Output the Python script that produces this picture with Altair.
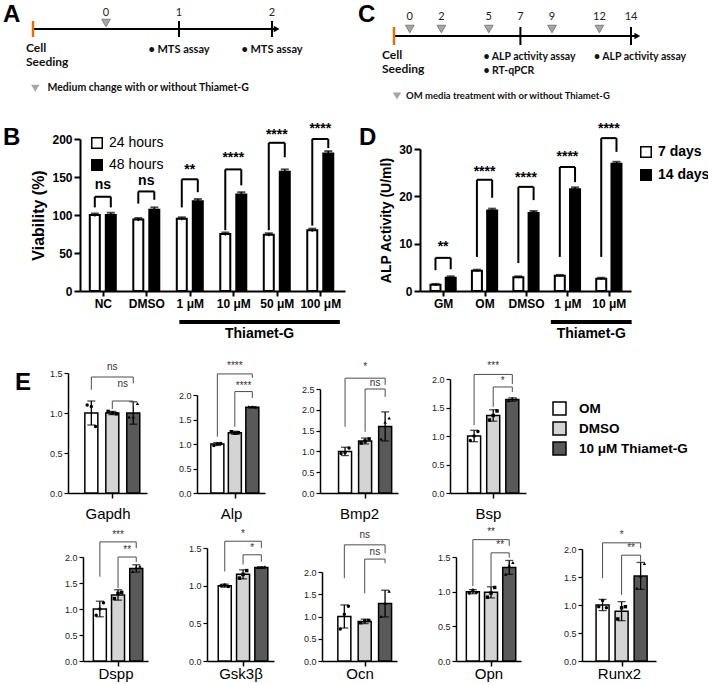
import json
import altair as alt
import pandas as pd

FONT = "Liberation Sans"
TL_FONT = "Lato"

# ====================== DATA ======================
# ---- Panel A timeline (days) ----
a_seed = -1
a_day_labels = [0, 1, 2]
a_tick_days = [1, 2]
a_treat_days = [0]
a_assay_days = [1, 2]
a_assay_text = ["• MTS assay", "• MTS assay"]
a_end = 2.05
a_legend_text = "Medium change with or without Thiamet-G"

# ---- Panel C timeline (days) ----
c_seed = -1
c_day_labels = [0, 2, 5, 7, 9, 12, 14]
c_tick_days = [7, 14]
c_treat_days = [0, 2, 5, 9, 12]
c_assay_days = [7, 14]
c_assay_text = ["• ALP activity assay", "• ALP activity assay"]
c_extra_days = [7]
c_extra_text = ["• RT-qPCR"]
c_end = 14.4
c_legend_text = "OM media treatment with or without Thiamet-G"

# ---- Panel B: viability ----
b_groups = ["NC", "DMSO", "1 μM", "10 μM", "50 μM", "100 μM"]
b_series = ["24 hours", "48 hours"]
b_24h = [100, 94, 95, 75, 74, 80]
b_48h = [100, 107, 118, 127, 157, 181]
b_sd_24h = [2, 2, 2, 2, 2, 2]
b_sd_48h = [3, 3, 3, 3, 3, 3]
b_sig = ["ns", "ns", "**", "****", "****", "****"]
b_br_top = [124, 131, 147, 160, 195, 200]
b_br_left = [110, 115, 110, 80, 80, 86]
b_br_right = [110, 120, 130, 139, 176, 188]
b_sig_y = [139, 145, 159, 175, 205, 213]
b_yticks = [0, 50, 100, 150, 200]

# ---- Panel D: ALP activity ----
d_groups = ["GM", "OM", "DMSO", "1 μM", "10 μM"]
d_series = ["7 days", "14 days"]
d_7 = [1.3, 4.3, 2.9, 3.2, 2.6]
d_14 = [2.8, 17.0, 16.5, 21.5, 26.9]
d_sd_7 = [0.2, 0.2, 0.2, 0.2, 0.2]
d_sd_14 = [0.3, 0.4, 0.4, 0.4, 0.4]
d_sig = ["**", "****", "****", "****", "****"]
d_br_top = [7.0, 23.5, 22.0, 26.2, 32.3]
d_br_left = [4.4, 7.2, 5.9, 7.2, 7.2]
d_br_right = [4.6, 19.7, 19.2, 23.0, 29.4]
d_sig_y = [9.2, 25.2, 23.9, 28.3, 34.2]
d_yticks = [0, 10, 20, 30]

thiamet_label = "Thiamet-G"

# ---- Panel E: RT-qPCR ----
e_groups = ["OM", "DMSO", "10 μM Thiamet-G"]
e_point_shapes = ["circle", "square", "triangle-up"]
e_genes = ["Gapdh", "Alp", "Bmp2", "Bsp", "Dspp", "Gsk3β", "Ocn", "Opn", "Runx2"]
e_mean = [
    [1.0, 1.0, 1.0], [1.0, 1.23, 1.75], [1.0, 1.25, 1.6],
    [1.0, 1.36, 1.64], [1.0, 1.27, 1.78], [1.0, 1.15, 1.24],
    [1.0, 0.89, 1.29], [1.0, 0.99, 1.35], [1.0, 0.89, 1.52],
]
e_sd = [
    [0.15, 0.02, 0.14], [0.03, 0.03, 0.01], [0.10, 0.07, 0.35],
    [0.10, 0.10, 0.03], [0.15, 0.10, 0.07], [0.02, 0.06, 0.01],
    [0.26, 0.05, 0.30], [0.03, 0.08, 0.10], [0.10, 0.17, 0.24],
]
e_points = [
    [[1.10, 1.08, 0.83], [1.02, 1.00, 0.99], [0.95, 0.95, 1.12]],
    [[0.97, 1.00, 1.01], [1.25, 1.22, 1.23], [1.76, 1.76, 1.75]],
    [[0.95, 0.97, 1.08], [1.20, 1.25, 1.30], [1.30, 1.70, 1.80]],
    [[0.92, 1.00, 1.08], [1.28, 1.36, 1.44], [1.62, 1.66, 1.65]],
    [[0.88, 1.00, 1.12], [1.20, 1.30, 1.32], [1.72, 1.80, 1.82]],
    [[1.00, 1.01, 0.99], [1.10, 1.15, 1.20], [1.24, 1.24, 1.25]],
    [[0.72, 1.05, 1.23], [0.86, 0.90, 0.91], [1.00, 1.30, 1.57]],
    [[0.98, 1.02, 0.99], [0.92, 0.98, 1.06], [1.25, 1.38, 1.42]],
    [[0.97, 1.08, 0.95], [0.75, 0.95, 0.97], [1.30, 1.52, 1.74]],
]
e_ytop = [1.5, 2.0, 2.5, 2.0, 2.0, 1.5, 2.0, 1.5, 2.0]
# brackets: (top, left leg end, right leg end, label, label y)
e_br_om = [
    (1.45, 1.29, 1.37, "ns", 1.58), (2.43, 1.15, 2.35, "****", 2.59),
    (2.76, 1.59, 2.60, "*", 3.04), (2.08, 1.19, 1.91, "***", 2.22),
    (2.29, 1.62, 2.17, "***", 2.42), (1.59, 1.19, 1.50, "*", 1.68),
    (2.61, 1.86, 2.42, "ns", 2.83), (1.75, 1.08, 1.66, "**", 1.86),
    (2.11, 1.48, 2.01, "*", 2.25),
]
e_br_dmso = [
    (1.15, 1.05, 1.08, "ns", 1.36), (2.07, 1.35, 1.94, "****", 2.18),
    (2.50, 1.47, 2.31, "ns", 2.64), (1.86, 1.51, 1.77, "*", 1.97),
    (2.00, 1.40, 1.90, "**", 2.13), (1.41, 1.28, 1.32, "*", 1.50),
    (2.29, 1.52, 2.20, "ns", 2.46), (1.56, 1.05, 1.49, "**", 1.68),
    (1.89, 1.18, 1.77, "**", 2.01),
]

# ====================== LAYOUT (pixels, whole figure) ======================
W_ALL, H_ALL = 708, 684
b_x0, b_x1, b_first, b_step, b_half, b_base, b_topy = 80, 345, 18.5, 45.2, 0.184, 291, 139
d_x0, d_x1, d_first, d_step, d_half, d_base, d_topy = 420, 631, 19, 43.5, 0.184, 291, 149
b_th = (1.76, 5.45)
d_th = (2.6, 4.55)
th_bar_y, th_text_y = 322, 334
e_x0 = [68, 197, 320, 450, 83, 207, 322, 456, 582]
e_w = [79, 68, 78, 76, 65, 67, 75, 65, 74]
e_o = [21, 18, 23, 22, 14, 15, 20, 14, 18]
e_k = [24, 20.5, 23, 22, 21.5, 21.5, 23.5, 21.5, 22]
e_base = [493, 493, 493, 493, 661, 661, 661, 661, 661]
e_topy = [373, 395, 389, 379, 557, 548, 572, 557, 549]
e_title_pad = [8, 8, 8, 8, 0, 0, 0, 0, 0]
e_jitter = [-0.2, 0.0, 0.2]
e_fills = ["white", "#D4D4D4", "#595959"]


def letter_mark(letter, x, y, size=24):
    return alt.Chart(pd.DataFrame({"t": [letter]})).mark_text(
        font=FONT, fontSize=size, fontWeight="bold", align="left", baseline="alphabetic",
        color="black").encode(x=alt.value(x), y=alt.value(y), text="t:N")


# ====================== TIMELINES ======================
def timeline(scale, seed, end, day_labels, tick_days, treat_days, assay_days, assay_text,
             extra_days, extra_text, legend_text, line_y, tick_half, tri_y, num_y, lab_y,
             seed_dx, assay_dx, assay_align, assay_size, letter, letter_x, letter_y,
             legend_x, legend_y, legend_size, label_offset):
    X = alt.X("d:Q", scale=scale, axis=None)
    layers = []
    layers.append(alt.Chart(pd.DataFrame({"d": [seed], "d2": [end]})).mark_rule(
        color="black", strokeWidth=2).encode(x=X, x2="d2:Q", y=alt.value(line_y)))
    layers.append(alt.Chart(pd.DataFrame({"d": [end]})).mark_point(
        shape="triangle-right", filled=True, color="black", size=45, opacity=1).encode(
        x=X, y=alt.value(line_y)))
    layers.append(alt.Chart(pd.DataFrame({"d": [seed]})).mark_rule(
        color="#E46C0A", strokeWidth=2.5).encode(
        x=X, y=alt.value(line_y - tick_half), y2=alt.value(line_y + tick_half)))
    layers.append(alt.Chart(pd.DataFrame({"d": tick_days})).mark_rule(
        color="black", strokeWidth=2).encode(
        x=X, y=alt.value(line_y - tick_half), y2=alt.value(line_y + tick_half)))
    layers.append(alt.Chart(pd.DataFrame({"d": day_labels, "t": [str(v) for v in day_labels]})).mark_text(
        font=TL_FONT, fontSize=11, color="#222").encode(x=X, y=alt.value(num_y), text="t:N"))
    layers.append(alt.Chart(pd.DataFrame({"d": treat_days, "k": [legend_text] * len(treat_days)})).mark_point(
        filled=True, color="#A6A6A6", stroke="#7F7F7F", strokeWidth=1, size=75, opacity=1).encode(
        x=X, y=alt.value(tri_y),
        shape=alt.Shape("k:N", scale=alt.Scale(domain=[legend_text], range=["triangle-down"]),
                        legend=alt.Legend(orient="none", legendX=legend_x, legendY=legend_y, title=None,
                                          labelFont=TL_FONT, labelFontSize=legend_size,
                                          labelFontWeight="bold", labelColor="#111", labelLimit=400,
                                          symbolFillColor="#A6A6A6", symbolStrokeColor="#7F7F7F",
                                          symbolSize=70, labelOffset=label_offset, padding=0))))
    layers.append(alt.Chart(pd.DataFrame({"d": [seed], "t": ["Cell\nSeeding"]})).mark_text(
        font=TL_FONT, fontSize=12, fontWeight="bold", align="left", baseline="top", lineBreak="\n",
        lineHeight=14, dx=seed_dx, color="#111").encode(x=X, y=alt.value(lab_y - 7), text="t:N"))
    layers.append(alt.Chart(pd.DataFrame({"d": assay_days, "t": assay_text})).mark_text(
        font=TL_FONT, fontSize=assay_size, fontWeight="bold", align=assay_align, baseline="middle",
        dx=assay_dx, color="#111").encode(x=X, y=alt.value(lab_y), text="t:N"))
    if extra_days:
        layers.append(alt.Chart(pd.DataFrame({"d": extra_days, "t": extra_text})).mark_text(
            font=TL_FONT, fontSize=assay_size, fontWeight="bold", align=assay_align,
            baseline="middle", dx=assay_dx, color="#111").encode(
            x=X, y=alt.value(lab_y + 14), text="t:N"))
    layers.append(letter_mark(letter, letter_x, letter_y))
    return alt.layer(*layers)


chart_a = timeline(alt.Scale(domain=[-1, 0, 1, 2], range=[33, 106, 179, 272]),
                   a_seed, a_end, a_day_labels, a_tick_days, a_treat_days, a_assay_days,
                   a_assay_text, [], [], a_legend_text, 29, 8, 23, 13, 50, -7, 0, "center", 11,
                   "A", 3, 22, 30, 83, 10.5, 7)
chart_c = timeline(alt.Scale(domain=[-1, 14], range=[394, 631], nice=False, zero=False),
                   c_seed, c_end, c_day_labels, c_tick_days, c_treat_days, c_assay_days,
                   c_assay_text, c_extra_days, c_extra_text, c_legend_text, 36, 9, 29, 17, 57,
                   -12, -37, "left", 10.5, "C", 358, 22, 392, 91, 9.5, 4)


# ====================== GROUPED BAR PANELS (B, D) ======================
def grouped_panel(groups, series, v1, v2, s1, s2, sig, top, lb, rb, sy, yticks, ytitle,
                  x0, x1, first, step, half, base, topy, th, letter, letter_x, legend_x, legend_y,
                  legend_bold, title_size, title_pad, row_pad):
    n = len(groups)
    lo = -first / step
    hi = lo + (x1 - x0) / step
    X = alt.X("pos:Q", scale=alt.Scale(domain=[lo, hi], range=[x0, x1], nice=False, zero=False),
              axis=alt.Axis(orient="bottom", offset=-(H_ALL - base), values=list(range(n)),
                            labelExpr=json.dumps(groups) + "[datum.value]",
                            title=None, grid=False, domainColor="black", domainWidth=2,
                            tickColor="black", tickWidth=2, tickSize=5, labelFontSize=12,
                            labelFontWeight="bold", labelColor="black", labelPadding=2,
                            labelOverlap=False, labelFlush=False))
    Y = alt.Y("val:Q", scale=alt.Scale(domain=[0, yticks[-1]], range=[base, topy], nice=False),
              axis=alt.Axis(orient="left", offset=-x0, values=yticks, grid=False,
                            domainColor="black", domainWidth=2, tickColor="black",
                            tickWidth=2, tickSize=6, labelFontSize=12, labelFontWeight="bold",
                            labelColor="black", labelPadding=2, title=ytitle,
                            titleFontSize=title_size, titleFontWeight="bold", titleColor="black",
                            titlePadding=title_pad))
    rows, err, caps = [], [], []
    for g in range(n):
        for s, (vals, sds) in enumerate(((v1, s1), (v2, s2))):
            p = g + (2 * s - 1) * half
            rows.append({"pos": p, "val": vals[g], "series": series[s]})
            err.append({"pos": p, "val": vals[g] - sds[g], "val2": vals[g] + sds[g]})
            caps.append({"pos": p, "val": vals[g] + sds[g]})
    bars = alt.Chart(pd.DataFrame(rows)).mark_bar(size=10, stroke="black", strokeWidth=2).encode(
        x=X, y=Y,
        fill=alt.Fill("series:N", scale=alt.Scale(domain=series, range=["white", "black"]),
                      legend=alt.Legend(orient="none", legendX=legend_x, legendY=legend_y,
                                        title=None, symbolType="square", symbolSize=110,
                                        symbolStrokeColor="black", symbolStrokeWidth=1.5,
                                        labelFontSize=14, labelColor="black",
                                        labelFontWeight="bold" if legend_bold else "normal",
                                        labelOffset=5, rowPadding=row_pad, padding=0)))
    errs = alt.Chart(pd.DataFrame(err)).mark_rule(color="black", strokeWidth=1.5).encode(
        x=X, y=Y, y2="val2:Q")
    capm = alt.Chart(pd.DataFrame(caps)).mark_tick(color="black", orient="horizontal", size=8,
                                                    thickness=2).encode(x=X, y=Y)
    horiz = alt.Chart(pd.DataFrame({"pos": [g - half for g in range(n)],
                                    "pos2": [g + half for g in range(n)], "val": top})).mark_rule(
        color="black", strokeWidth=2).encode(x=X, x2="pos2:Q", y=Y)
    legl = alt.Chart(pd.DataFrame({"pos": [g - half for g in range(n)], "val": top,
                                   "val2": lb})).mark_rule(color="black", strokeWidth=2).encode(
        x=X, y=Y, y2="val2:Q")
    legr = alt.Chart(pd.DataFrame({"pos": [g + half for g in range(n)], "val": top,
                                   "val2": rb})).mark_rule(color="black", strokeWidth=2).encode(
        x=X, y=Y, y2="val2:Q")
    sigt = alt.Chart(pd.DataFrame({"pos": list(range(n)), "val": sy, "t": sig})).mark_text(
        fontSize=14, fontWeight="bold", color="black", baseline="middle").encode(
        x=X, y=Y, text="t:N")
    th_bar = alt.Chart(pd.DataFrame({"pos": [th[0]], "pos2": [th[1]]})).mark_rule(
        color="black", strokeWidth=4).encode(x=X, x2="pos2:Q", y=alt.value(th_bar_y))
    th_txt = alt.Chart(pd.DataFrame({"pos": [(th[0] + th[1]) / 2], "t": [thiamet_label]})).mark_text(
        fontSize=14, fontWeight="bold", color="black", baseline="middle").encode(
        x=X, y=alt.value(th_text_y), text="t:N")
    return alt.layer(bars, errs, capm, horiz, legl, legr, sigt, th_bar, th_txt,
                     letter_mark(letter, letter_x, 145))


chart_b = grouped_panel(b_groups, b_series, b_24h, b_48h, b_sd_24h, b_sd_48h, b_sig, b_br_top,
                        b_br_left, b_br_right, b_sig_y, b_yticks, "Viability (%)",
                        b_x0, b_x1, b_first, b_step, b_half, b_base, b_topy, b_th, "B", 3,
                        90, 136, False, 16, 5, 4)
chart_d = grouped_panel(d_groups, d_series, d_7, d_14, d_sd_7, d_sd_14, d_sig, d_br_top,
                        d_br_left, d_br_right, d_sig_y, d_yticks, "ALP Activity (U/ml)",
                        d_x0, d_x1, d_first, d_step, d_half, d_base, d_topy, d_th, "D", 359,
                        639, 145, True, 14, 5, 5)


# ====================== GENE PANELS (E) ======================
def gene_panel(i, show_legend=False, letter=None):
    x0, W, o, k = e_x0[i], e_w[i], e_o[i], e_k[i]
    base, topy = e_base[i], e_topy[i]
    lo = 1 - o / k
    hi = lo + W / k
    ticks = [round(0.5 * j, 1) for j in range(int(round(e_ytop[i] / 0.5)) + 1)]
    X = alt.X("pos:Q", scale=alt.Scale(domain=[lo, hi], range=[x0, x0 + W], nice=False, zero=False),
              axis=alt.Axis(orient="bottom", offset=-(H_ALL - base), values=[2], labels=False,
                            grid=False, tickSize=5, tickWidth=1.5,
                            tickColor="black", domainColor="black", domainWidth=1.5,
                            title=e_genes[i], titleFontSize=15, titleFontWeight="normal",
                            titleColor="black", titlePadding=e_title_pad[i]))
    Y = alt.Y("val:Q", scale=alt.Scale(domain=[0, e_ytop[i]], range=[base, topy], nice=False),
              axis=alt.Axis(orient="left", offset=-x0, values=ticks, format=".1f", grid=False,
                            domainColor="black", domainWidth=1.5, tickSize=4,
                            tickWidth=1.2, tickColor="black", labelFontSize=9,
                            labelColor="#222", labelPadding=2, title=None))
    pos = [1, 2, 3]
    m, s = e_mean[i], e_sd[i]
    legend = None
    if show_legend:
        legend = alt.Legend(orient="none", legendX=552, legendY=401, title=None,
                            symbolType="square", symbolSize=169, symbolStrokeColor="black",
                            symbolStrokeWidth=1.5, labelFontSize=13.5, labelFontWeight="bold",
                            labelColor="black", labelOffset=12, rowPadding=1, labelLimit=300,
                            padding=0)
    bars = alt.Chart(pd.DataFrame({"pos": pos, "val": m, "grp": e_groups})).mark_bar(
        size=13, stroke="black", strokeWidth=1.5).encode(
        x=X, y=Y, fill=alt.Fill("grp:N", scale=alt.Scale(domain=e_groups, range=e_fills),
                                legend=legend))
    lows = [a - b for a, b in zip(m, s)]
    highs = [a + b for a, b in zip(m, s)]
    errs = alt.Chart(pd.DataFrame({"pos": pos, "val": lows, "val2": highs})).mark_rule(
        color="black", strokeWidth=1.3).encode(x=X, y=Y, y2="val2:Q")
    caps = alt.Chart(pd.DataFrame({"pos": pos + pos, "val": lows + highs})).mark_tick(
        color="black", orient="horizontal", size=8, thickness=1.3).encode(x=X, y=Y)
    pt_layers = []
    for g in range(3):
        pdf = pd.DataFrame({"pos": [g + 1 + e_jitter[j] for j in range(3)],
                            "val": e_points[i][g]})
        pt_layers.append(alt.Chart(pdf).mark_point(
            filled=True, color="black", size=12, opacity=1, shape=e_point_shapes[g]).encode(
            x=X, y=Y))
    br = [e_br_om[i], e_br_dmso[i]]
    x1s = [1, 2]
    horiz = alt.Chart(pd.DataFrame({"pos": x1s, "pos2": [3, 3], "val": [b[0] for b in br]})).mark_rule(
        color="#4d4d4d", strokeWidth=1).encode(x=X, x2="pos2:Q", y=Y)
    legl = alt.Chart(pd.DataFrame({"pos": x1s, "val": [b[0] for b in br],
                                   "val2": [b[1] for b in br]})).mark_rule(
        color="#4d4d4d", strokeWidth=1).encode(x=X, y=Y, y2="val2:Q")
    legr = alt.Chart(pd.DataFrame({"pos": [3, 3], "val": [b[0] for b in br],
                                   "val2": [b[2] for b in br]})).mark_rule(
        color="#4d4d4d", strokeWidth=1).encode(x=X, y=Y, y2="val2:Q")
    txt = alt.Chart(pd.DataFrame({"pos": [(a + 3) / 2 for a in x1s], "val": [b[4] for b in br],
                                  "t": [b[3] for b in br]})).mark_text(
        fontSize=10, color="#333", baseline="middle").encode(x=X, y=Y, text="t:N")
    layers = [bars, errs, caps] + pt_layers + [horiz, legl, legr, txt]
    if letter:
        layers.append(letter_mark(letter, 15, 390))
    return alt.layer(*layers)


panels = [chart_a, chart_c, chart_b, chart_d]
for i in range(9):
    panels.append(gene_panel(i, show_legend=(i == 3), letter=("E" if i == 0 else None)))

chart = alt.layer(*panels).resolve_scale(
    x="independent", y="independent", fill="independent", shape="independent"
).properties(
    width=W_ALL, height=H_ALL, padding=0, autosize=alt.AutoSizeParams(type="none")
).configure(font=FONT).configure_view(stroke=None)

chart.save("out.html", embed_options={"renderer": "svg", "actions": False})
